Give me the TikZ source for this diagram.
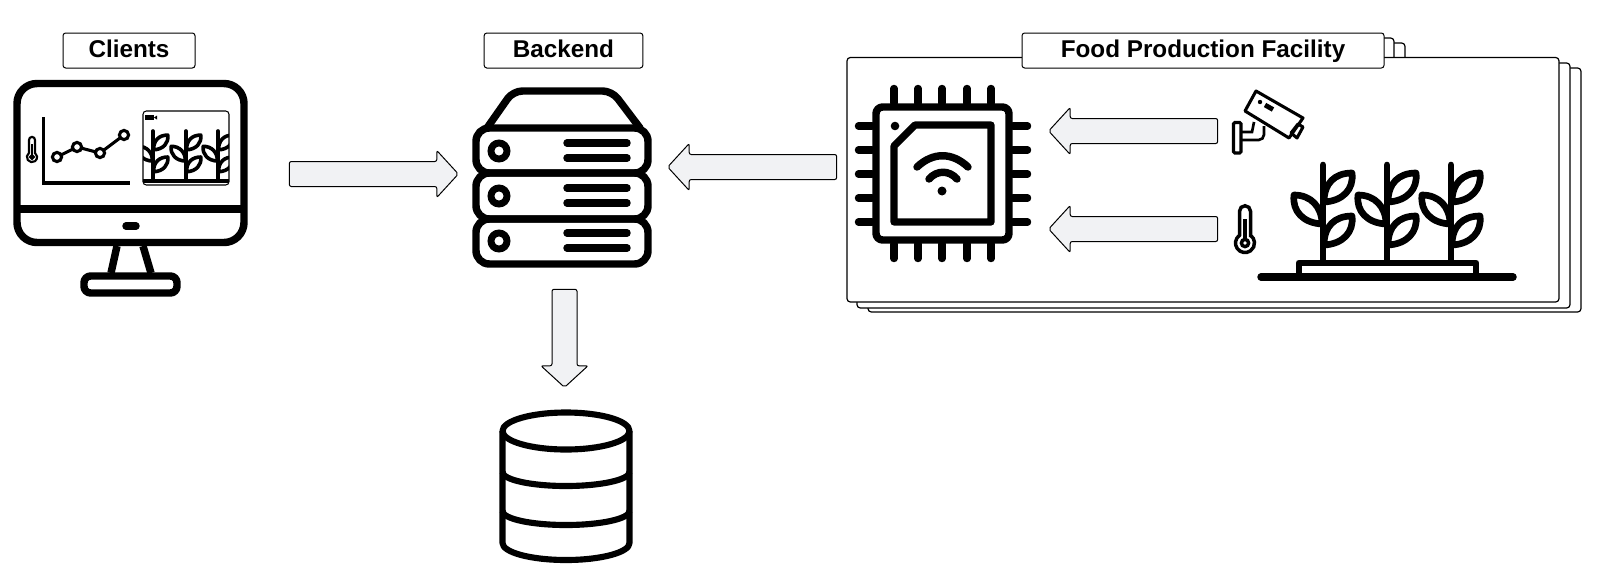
\documentclass[tikz,border=0pt]{standalone}
\usepackage{fontspec}
\setmainfont{Liberation Sans}
\usetikzlibrary{shapes.arrows}
\definecolor{arrowfill}{HTML}{F1F2F4}
\tikzset{
	titlebox/.style={draw,fill=white,rounded corners=2pt,line width=.75pt,font=\fontsize{18.2}{20}\selectfont\bfseries,inner sep=0pt,text height=13pt,text depth=3.25pt,minimum height=26.25pt},
	flowarrow/.style={draw,fill=arrowfill,single arrow,rounded corners=1.5pt,line width=.75pt,inner xsep=0pt,inner ysep=9pt,single arrow head extend=8.25pt,single arrow tip angle=95,anchor=tip},
	sheet/.style={draw,fill=white,rounded corners=2.5pt,line width=.9pt},
	thick icon/.style={line width=5.6pt,line cap=round,line join=round},
	plant/.pic={
		\draw[line cap=round] (0,0) -- (0,95);
		\foreach \y in {0,43}
		\draw[line join=round,shift={(0,\y)}] (1,37) .. controls (1,18) and (12,8) .. (29,8) .. controls (31,24) and (20,36) .. (1,37);
		\draw[line join=round] (-1,59) .. controls (-1,42) and (-12,30) .. (-29,30) .. controls (-31,46) and (-20,58) .. (-1,59);
	},
	thermo/.pic={
		\draw (5.5,-7.7) -- (5.5,-31.75) arc[start angle=0,end angle=-180,radius=5.5] -- (-5.5,-7.7) arc[start angle=234.6,end angle=-54.6,radius=9.5] -- cycle;
		\draw (0,0) circle (3.6);
		\draw (0,-24) -- (0,-4);
	}
}
\begin{document}
\begin{tikzpicture}[x=.75pt,y=-.75pt]
	\useasboundingbox (0,0) rectangle (1598,575);

	\draw[thick icon,rounded corners=15pt] (17,83.5) rectangle (244,242.5);
	\draw[thick icon,line cap=butt] (17,209) -- (244,209);
	\draw[thick icon] (126,226) -- (136,226);
	\draw[thick icon,line cap=butt] (117,246) -- (111,273);
	\draw[thick icon,line cap=butt] (143,246) -- (151,273);
	\draw[thick icon,rounded corners=5pt] (84,276) rectangle (177,293);
	\draw[line width=2.5pt] (43.5,117) -- (43.5,183) -- (130,183);
	\draw[line width=2.3pt] (57,157) -- (77,147) -- (100,153) -- (124,135);
	\foreach \x/\y in {57/157,77/147,100/153,124/135}
	\filldraw[fill=white,line width=2.3pt] (\x,\y) circle (4.6);
	\pic[scale=.54,line width=1.6pt] at (32,157) {thermo};
	\begin{scope}
		\clip[rounded corners=2.5pt] (143,111) rectangle (229,185);
		\foreach \x in {153,186,218}
		\pic[scale=.51,line width=2.7pt] at (\x,131) {plant};
		\draw[line width=2.6pt] (143,181) -- (229,181);
	\end{scope}
	\draw[line width=.8pt,rounded corners=2.5pt] (143,111) rectangle (229,185);
	\fill (145,115) rectangle (154,120);
	\fill (154,117.5) -- (157,115.5) -- (157,119.5) -- cycle;

	\draw[thick icon,rounded corners=7pt] (487,128) -- (513,91) -- (612,91) -- (640,128);
	\foreach \y/\h in {128/173,173/219,219/264}
	\draw[thick icon,rounded corners=10pt] (476,\y) rectangle (648,\h);
	\foreach \y in {151,196,241}{
		\draw[line width=5.2pt] (499,\y) circle (8);
		\draw[thick icon] (567,\y-8) -- (627,\y-8);
		\draw[thick icon] (567,\y+7) -- (627,\y+7);
	}

	\draw[line width=4.6pt,line join=round] (566,431) ellipse (63.5 and 18.5);
	\draw[line width=4.6pt,line join=round] (502.5,431) -- (502.5,543) arc[start angle=180,end angle=0,x radius=63.5,y radius=17] -- (629.5,431);
	\draw[line width=4.6pt] (502.5,472) arc[start angle=180,end angle=0,x radius=63.5,y radius=14];
	\draw[line width=4.6pt] (502.5,511) arc[start angle=180,end angle=0,x radius=63.5,y radius=14];

	\foreach \l/\t/\r/\b/\tr/\tt in {868/68/1581/312/1405/43,857/63/1570/308/1394/38}{
		\draw[sheet] (1100,\tt) rectangle (\tr,80);
		\draw[sheet] (\l,\t) rectangle (\r,\b);
	}
	\draw[sheet] (847,57.5) rectangle (1559,302);

	\draw[thick icon,rounded corners=5pt] (876,107) rectangle (1009,240);
	\foreach \x in {894,918,942,967,991}{
		\draw[thick icon] (\x,88.5) -- (\x,103);
		\draw[thick icon] (\x,244) -- (\x,258.5);
	}
	\foreach \y in {126,150,174,198,222}{
		\draw[thick icon] (858.5,\y) -- (872,\y);
		\draw[thick icon] (1013,\y) -- (1027.5,\y);
	}
	\draw[line width=5.4pt,line join=round] (894,146) -- (915,125) -- (991,125) -- (991,222) -- (894,222) -- cycle;
	\fill (895,126) circle (4.3);
	\draw[thick icon] (917,167) .. controls (933,152) and (952,152) .. (968,167);
	\draw[thick icon] (929,179) .. controls (937,170) and (949,170) .. (957,179);
	\fill (942,191) circle (4.5);

	\draw[line width=2.3pt,rounded corners=1pt] (1233.5,122.5) rectangle (1241,153);
	\draw[line width=2pt] (1242,132) -- (1252,132) -- (1254,122);
	\draw[line width=2pt,rounded corners=4pt] (1242,140) -- (1264,140) -- (1264,126);
	\draw[line width=2.3pt,line join=round] (1256,91) -- (1303,118) -- (1289,138) -- (1245,111) -- cycle;
	\draw[line width=2.3pt,line join=round] (1291,133) -- (1298,124) -- (1303,127) -- (1297,138) -- cycle;
	\fill (1260,102) circle (2.2);
	\draw[line width=3.6pt] (1265,105) -- (1273,109.5);

	\pic[line width=2.6pt] at (1245,243) {thermo};

	\foreach \x in {1323,1387,1451}
	\pic[line width=5pt] at (\x,165) {plant};
	\draw[line width=5pt,line join=round] (1299,277) -- (1299,263) -- (1476,263) -- (1476,277);
	\draw[thick icon] (1261,277) -- (1513,277);

	\node[titlebox,minimum width=99pt] (clientslabel) at (129,50.5) {Clients};
	\node[titlebox,minimum width=119pt] (backendlabel) at (563.5,50.5) {Backend};
	\node[titlebox,minimum width=271.5pt] (facilitylabel) at (1203,50.5) {Food Production Facility};

	\node[flowarrow,minimum height=126.75pt] (clientarrow) at (459,174) {};
	\node[flowarrow,minimum height=126.75pt,shape border rotate=180] (facilityarrow) at (667,167) {};
	\node[flowarrow,minimum height=126.75pt,shape border rotate=180] (cameraarrow) at (1048,131) {};
	\node[flowarrow,minimum height=126.75pt,shape border rotate=180] (sensorarrow) at (1048,229) {};
	\node[flowarrow,inner xsep=9pt,inner ysep=0pt,minimum height=73.5pt,shape border rotate=270] (storagearrow) at (564.5,388) {};
\end{tikzpicture}
\end{document}
